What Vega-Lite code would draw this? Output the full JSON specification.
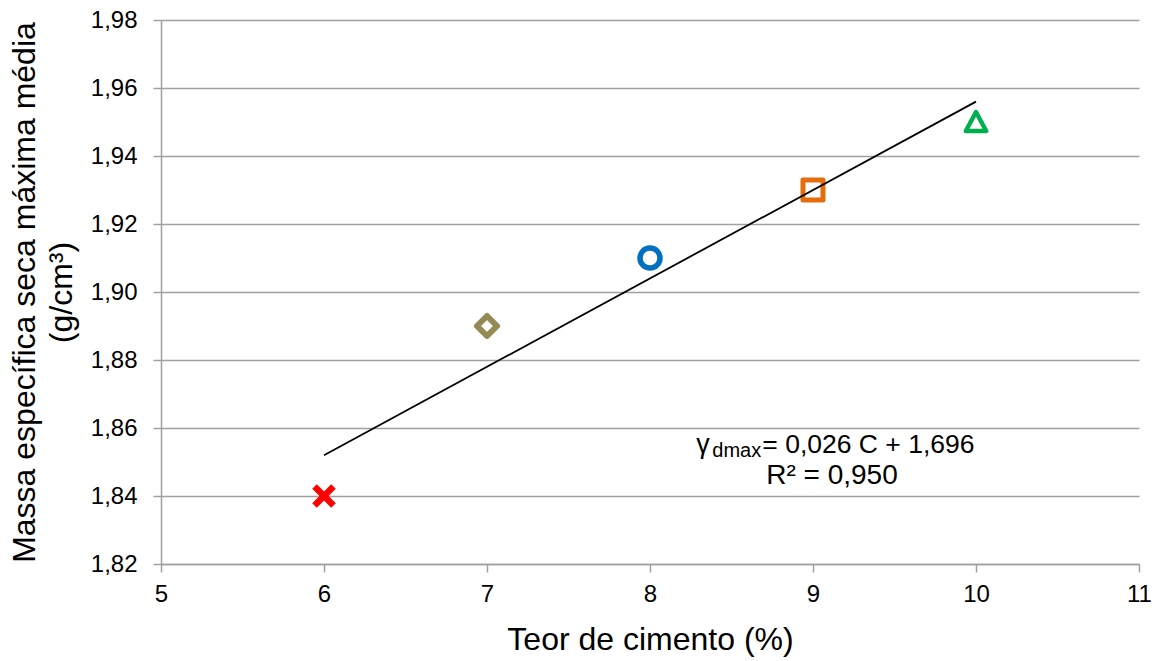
{
  "$schema": "https://vega.github.io/schema/vega-lite/v6.json",
  "width": 978,
  "height": 544,
  "autosize": {"type": "none"},
  "padding": {"left": 161, "top": 20, "right": 24, "bottom": 97},
  "background": "white",
  "config": {
    "view": {"stroke": null},
    "font": "Liberation Sans",
    "axis": {
      "labelFont": "Liberation Sans",
      "titleFont": "Liberation Sans",
      "labelColor": "black",
      "titleColor": "black",
      "labelFontSize": 24,
      "titleFontSize": 32,
      "titleFontWeight": "normal",
      "domainColor": "#a0a0a0",
      "domainWidth": 1.5,
      "tickColor": "#a0a0a0",
      "tickWidth": 1.5,
      "tickSize": 8,
      "gridColor": "#a0a0a0",
      "gridWidth": 1.5
    }
  },
  "datasets": {
    "pontos": [
      {"teor": 6, "massa": 1.84, "serie": "6%"},
      {"teor": 7, "massa": 1.89, "serie": "7%"},
      {"teor": 8, "massa": 1.91, "serie": "8%"},
      {"teor": 9, "massa": 1.93, "serie": "9%"},
      {"teor": 10, "massa": 1.95, "serie": "10%"}
    ],
    "tendencia": [
      {"teor": 6, "massa": 1.852},
      {"teor": 10, "massa": 1.956}
    ]
  },
  "layer": [
    {
      "data": {"name": "pontos"},
      "mark": {"type": "point", "filled": false, "size": 400, "opacity": 1, "strokeJoin": "round"},
      "encoding": {
        "x": {
          "field": "teor",
          "type": "quantitative",
          "scale": {"domain": [5, 11], "nice": false, "zero": false},
          "axis": {
            "values": [5, 6, 7, 8, 9, 10, 11],
            "format": "d",
            "labelFlush": false,
            "grid": false,
            "title": "Teor de cimento (%)",
            "labelPadding": 10,
            "titlePadding": 18
          }
        },
        "y": {
          "field": "massa",
          "type": "quantitative",
          "scale": {"domain": [1.82, 1.98], "nice": false, "zero": false},
          "axis": {
            "values": [1.82, 1.84, 1.86, 1.88, 1.9, 1.92, 1.94, 1.96, 1.98],
            "labelExpr": "replace(format(datum.value, '.2f'), '.', ',')",
            "labelFlush": false,
            "grid": true,
            "title": ["Massa específica seca máxima média", "(g/cm³)"],
            "titleLineHeight": 37,
            "labelPadding": 16,
            "titlePadding": 12
          }
        },
        "shape": {
          "field": "serie",
          "type": "nominal",
          "scale": {
            "domain": ["6%", "7%", "8%", "9%", "10%"],
            "range": ["M-0.95,-0.95L0.95,0.95M0.95,-0.95L-0.95,0.95", "diamond", "circle", "square", "M0,-1L1.02,0.9L-1.02,0.9Z"]
          },
          "legend": null
        },
        "color": {
          "field": "serie",
          "type": "nominal",
          "scale": {
            "domain": ["6%", "7%", "8%", "9%", "10%"],
            "range": ["#ff0000", "#948a54", "#0070c0", "#e46c0a", "#00b050"]
          },
          "legend": null
        },
        "strokeWidth": {
          "field": "serie",
          "type": "nominal",
          "scale": {
            "domain": ["6%", "7%", "8%", "9%", "10%"],
            "range": [6.5, 4.5, 4.5, 4.2, 4.8]
          },
          "legend": null
        }
      }
    },
    {
      "data": {"name": "tendencia"},
      "mark": {"type": "line", "color": "black", "strokeWidth": 1.8},
      "encoding": {
        "x": {"field": "teor", "type": "quantitative"},
        "y": {"field": "massa", "type": "quantitative"}
      }
    },
    {
      "data": {"values": [{"teor": 8.284, "massa": 1.8527, "texto": "γ"}]},
      "mark": {"type": "text", "align": "left", "baseline": "alphabetic", "fontSize": 27, "color": "black"},
      "encoding": {
        "x": {"field": "teor", "type": "quantitative"},
        "y": {"field": "massa", "type": "quantitative"},
        "text": {"field": "texto"}
      }
    },
    {
      "data": {"values": [{"teor": 8.382, "massa": 1.8515, "texto": "dmax"}]},
      "mark": {"type": "text", "align": "left", "baseline": "alphabetic", "fontSize": 20, "color": "black"},
      "encoding": {
        "x": {"field": "teor", "type": "quantitative"},
        "y": {"field": "massa", "type": "quantitative"},
        "text": {"field": "texto"}
      }
    },
    {
      "data": {"values": [{"teor": 8.689, "massa": 1.8527, "texto": "= 0,026 C + 1,696"}]},
      "mark": {"type": "text", "align": "left", "baseline": "alphabetic", "fontSize": 26.5, "color": "black"},
      "encoding": {
        "x": {"field": "teor", "type": "quantitative"},
        "y": {"field": "massa", "type": "quantitative"},
        "text": {"field": "texto"}
      }
    },
    {
      "data": {"values": [{"teor": 8.713, "massa": 1.8435, "texto": "R² = 0,950"}]},
      "mark": {"type": "text", "align": "left", "baseline": "alphabetic", "fontSize": 28, "color": "black"},
      "encoding": {
        "x": {"field": "teor", "type": "quantitative"},
        "y": {"field": "massa", "type": "quantitative"},
        "text": {"field": "texto"}
      }
    }
  ]
}
